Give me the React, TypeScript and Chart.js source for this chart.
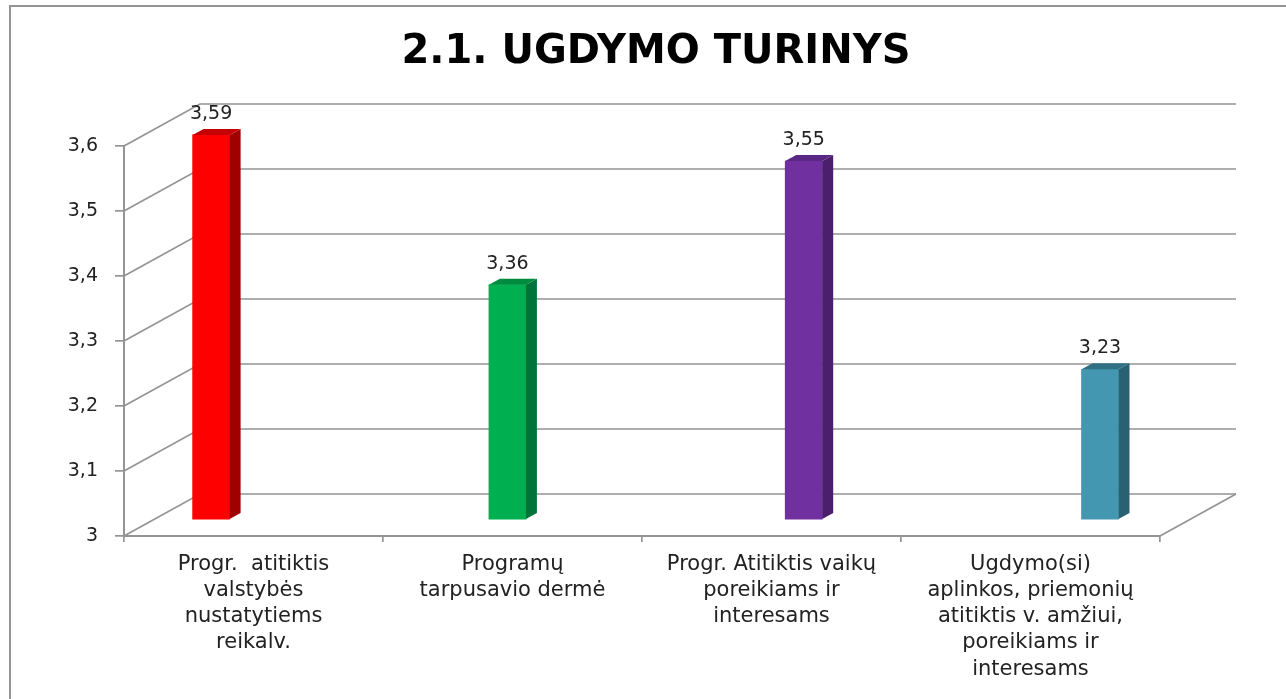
import React, { useEffect, useRef } from 'react';
import { Chart, registerables } from 'chart.js';

Chart.register(...registerables);

// ---------- data ----------
const TITLE = '2.1. UGDYMO TURINYS';
const categories: string[][] = [
  ['Progr.  atitiktis', 'valstybės', 'nustatytiems', 'reikalv.'],
  ['Programų', 'tarpusavio dermė'],
  ['Progr. Atitiktis vaikų', 'poreikiams ir', 'interesams'],
  ['Ugdymo(si)', 'aplinkos, priemonių', 'atitiktis v. amžiui,', 'poreikiams ir', 'interesams'],
];
const values: number[] = [3.59, 3.36, 3.55, 3.23];
const yTickValues: number[] = [3, 3.1, 3.2, 3.3, 3.4, 3.5, 3.6];
const BASE_VALUE = 3;

// ---------- styles ----------
const frontColors = ['#FF0000', '#00B050', '#7030A0', '#4397B0'];
const topColors = ['#C40000', '#008C3F', '#5A2784', '#316F82'];
const sideColors = ['#A00000', '#00733A', '#4B1F6C', '#286272'];
const GRID = '#949494';
const TEXT = '#222222';
const FONT = '"DejaVu Sans", Verdana, sans-serif';

// perspective of the box (back wall offset) and of each bar's depth
const WALL_DX = 76;
const WALL_DY = 42;
const BAR_DX = 11;
const BAR_DY = 6;

// the bars stand in a plane between the front and back walls: ranges of their hidden axes
const BAR_Y_MIN = 2.974;
const BAR_Y_MAX = 3.573;
const BAR_X_MIN = -0.294;
const BAR_X_MAX = 3.2025;

const fmt = (v: number) => String(Math.round(v * 100) / 100).replace('.', ',');

const wallsPlugin = {
  id: 'walls3d',
  beforeDatasetsDraw(chart: any) {
    const { ctx, chartArea } = chart;
    const ys = chart.scales.yFront;
    ctx.save();
    ctx.strokeStyle = GRID;
    ctx.lineWidth = 1.7;
    ys.ticks.forEach((t: any) => {
      const y = ys.getPixelForValue(t.value);
      ctx.beginPath();
      ctx.moveTo(chartArea.left, y);
      ctx.lineTo(chartArea.left + WALL_DX, y - WALL_DY);
      ctx.lineTo(chartArea.right + WALL_DX, y - WALL_DY);
      ctx.stroke();
    });
    ctx.beginPath();
    ctx.moveTo(chartArea.right, chartArea.bottom);
    ctx.lineTo(chartArea.right + WALL_DX, chartArea.bottom - WALL_DY);
    ctx.stroke();
    ctx.restore();
  },
};

const bars3dPlugin = {
  id: 'bars3d',
  afterDatasetsDraw(chart: any) {
    const { ctx } = chart;
    const meta = chart.getDatasetMeta(0);
    const data = chart.data.datasets[0].data;
    ctx.save();
    meta.data.forEach((bar: any, i: number) => {
      const { x, y, base, width } = bar.getProps(['x', 'y', 'base', 'width'], true);
      const l = x - width / 2;
      const r = x + width / 2;
      ctx.fillStyle = sideColors[i];
      ctx.beginPath();
      ctx.moveTo(r, y);
      ctx.lineTo(r + BAR_DX, y - BAR_DY);
      ctx.lineTo(r + BAR_DX, base - BAR_DY);
      ctx.lineTo(r, base);
      ctx.closePath();
      ctx.fill();
      ctx.fillStyle = topColors[i];
      ctx.beginPath();
      ctx.moveTo(l, y);
      ctx.lineTo(l + BAR_DX, y - BAR_DY);
      ctx.lineTo(r + BAR_DX, y - BAR_DY);
      ctx.lineTo(r, y);
      ctx.closePath();
      ctx.fill();
      ctx.fillStyle = TEXT;
      ctx.font = `19px ${FONT}`;
      ctx.textAlign = 'center';
      ctx.textBaseline = 'middle';
      ctx.fillText(fmt(data[i].y), x, y - 21);
    });
    ctx.restore();
  },
};

export default function App() {
  const ref = useRef<HTMLCanvasElement | null>(null);

  useEffect(() => {
    if (!ref.current) return;
    const chart = new Chart(ref.current, {
      type: 'bar',
      data: {
        labels: categories,
        datasets: [
          {
            data: values.map((v, i) => ({ x: i, y: v })),
            backgroundColor: frontColors,
            borderWidth: 0,
            barThickness: 37,
            base: BASE_VALUE,
            xAxisID: 'xBar',
            yAxisID: 'yBar',
            clip: false,
          } as any,
        ],
      },
      options: {
        responsive: false,
        animation: false,
        layout: { padding: { left: 26, right: 0, top: 0, bottom: 0 } },
        plugins: {
          legend: { display: false },
          tooltip: { enabled: false },
          title: {
            display: true,
            text: TITLE,
            color: '#000000',
            font: { family: FONT, size: 40, weight: 'bold', lineHeight: 1.2 },
            padding: { top: 29, bottom: 69 },
          },
        },
        scales: {
          xFront: {
            type: 'category',
            position: 'bottom',
            offset: true,
            grid: {
              display: true,
              offset: true,
              drawOnChartArea: false,
              drawTicks: true,
              tickLength: 6,
              color: GRID,
              lineWidth: 1.7,
            },
            border: { display: true, color: GRID, width: 2 },
            ticks: {
              autoSkip: false,
              maxRotation: 0,
              minRotation: 0,
              padding: 9,
              color: TEXT,
              font: { family: FONT, size: 21, lineHeight: 1.25 },
            },
            afterFit: (s: any) => {
              s.height = 163;
            },
          },
          yFront: {
            type: 'linear',
            position: 'left',
            min: 3,
            max: 3.6,
            afterBuildTicks: (s: any) => {
              s.ticks = yTickValues.map((v) => ({ value: v }));
            },
            grid: {
              display: true,
              drawOnChartArea: false,
              drawTicks: true,
              tickLength: 9,
              color: GRID,
              lineWidth: 1.7,
            },
            border: { display: true, color: GRID, width: 2 },
            ticks: {
              padding: 17,
              color: TEXT,
              font: { family: FONT, size: 19 },
              callback: (v: any) => fmt(Number(v)),
            },
            afterFit: (s: any) => {
              s.width = 98;
            },
          },
          xBar: {
            type: 'linear',
            display: false,
            offset: false,
            grid: { offset: false },
            min: BAR_X_MIN,
            max: BAR_X_MAX,
          },
          yBar: {
            type: 'linear',
            position: 'right',
            display: true,
            beginAtZero: false,
            min: BAR_Y_MIN,
            max: BAR_Y_MAX,
            grid: { display: false },
            border: { display: false },
            ticks: { display: false },
            afterFit: (s: any) => {
              s.width = 126;
            },
          },
        },
      } as any,
      plugins: [wallsPlugin, bars3dPlugin],
    });
    return () => chart.destroy();
  }, []);

  return (
    <div
      style={{
        position: 'fixed',
        left: 0,
        top: 0,
        width: 1286,
        height: 699,
        background: '#ffffff',
        overflow: 'hidden',
      }}
    >
      <div
        style={{
          position: 'absolute',
          left: 9,
          top: 5,
          right: 0,
          bottom: 0,
          borderTop: `2px solid ${GRID}`,
          borderLeft: `2px solid ${GRID}`,
        }}
      />
      <canvas ref={ref} width={1286} height={699} style={{ position: 'absolute', left: 0, top: 0 }} />
    </div>
  );
}
